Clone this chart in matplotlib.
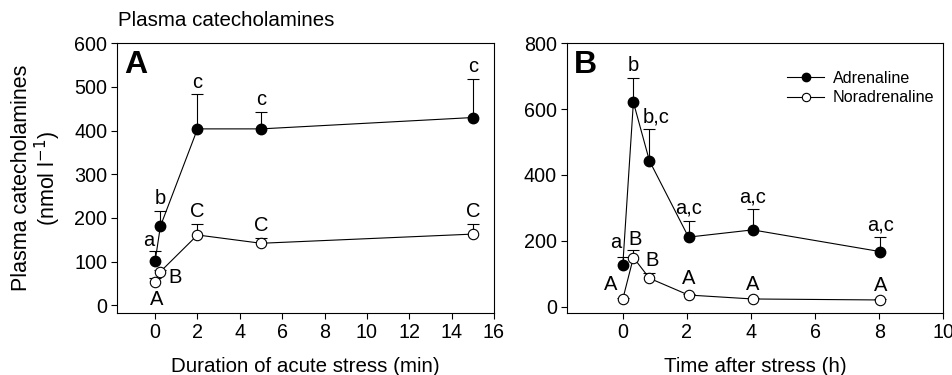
import matplotlib
matplotlib.use("Agg")
import matplotlib.pyplot as plt
from matplotlib.lines import Line2D

plt.rcParams['font.family'] = ['Liberation Sans', 'DejaVu Sans']

# Panel A: duration of acute stress (min)
a_time = [0, 0.25, 2, 5, 15]
a_adr = [101, 181, 404, 404, 430]
a_adr_err = [23, 35, 79, 39, 88]
a_nor = [54, 77, 161, 142, 163]
a_nor_err = [8, 4, 26, 12, 24]
a_adr_labels = ["a", "b", "c", "c", "c"]
a_nor_labels = ["A", "B", "C", "C", "C"]

# Panel B: time after stress (h)
b_time = [0, 0.33, 0.83, 2.05, 4.05, 8.03]
b_adr = [127, 621, 443, 211, 233, 167]
b_adr_err = [25, 73, 96, 50, 63, 43]
b_nor = [23, 149, 86, 35, 23, 20]
b_nor_err = [3, 23, 15, 4, 3, 3]
b_adr_labels = ["a", "b", "b,c", "a,c", "a,c", "a,c"]
b_nor_labels = ["A", "B", "B", "A", "A", "A"]

fig = plt.figure(figsize=(9.52, 3.75), dpi=100)
axA = fig.add_axes([0.1229, 0.165, 0.396, 0.7195])
axB = fig.add_axes([0.5953, 0.165, 0.3956, 0.7195])

fs = 14.2
ann = 14.5
lw = 0.8
ms = 7.5


def draw(ax, t, adr, adr_err, nor, nor_err):
    # upper-only error bars with a cap at the top, beneath the markers
    for vals, errs in ((adr, adr_err), (nor, nor_err)):
        tops = [v + e for v, e in zip(vals, errs)]
        ax.vlines(t, vals, tops, colors='black', lw=lw, zorder=2)
        ax.plot(t, tops, ls='none', marker='_', ms=8, mew=lw, color='black',
                zorder=2)
    ax.plot(t, adr, color='black', lw=lw, marker='o', ms=ms,
            mfc='black', mec='black', zorder=3)
    ax.plot(t, nor, color='black', lw=lw, marker='o', ms=ms,
            mfc='white', mec='black', mew=lw, zorder=4)
    for s in ax.spines.values():
        s.set_linewidth(lw)
    ax.tick_params(direction='out', length=4, width=lw, labelsize=fs, pad=3)


draw(axA, a_time, a_adr, a_adr_err, a_nor, a_nor_err)
axA.set_xlim(-1.8, 16)
axA.set_ylim(-18, 600)
axA.set_xticks(range(0, 17, 2))
axA.set_yticks(range(0, 601, 100))
axA.set_xlabel("Duration of acute stress (min)", fontsize=14.8, labelpad=11)
axA.set_ylabel("Plasma catecholamines\n(nmol l$^{-1}$)", fontsize=15.5,
               labelpad=8, linespacing=1.05)
axA.text(0.02, 0.975, "A", transform=axA.transAxes, fontsize=23,
         fontweight='bold', va='top', ha='left')

# significance letters, panel A
a_adr_pos = [(-0.32, 126), (0.25, 222), (2, 488), (5, 450), (15, 526)]
for (x, y), s in zip(a_adr_pos, a_adr_labels):
    axA.text(x, y, s, fontsize=ann, ha='center', va='bottom')
a_nor_pos = [(0.08, -8), (0.95, 42), (2, 194), (5, 160), (15, 194)]
for (x, y), s in zip(a_nor_pos, a_nor_labels):
    axA.text(x, y, s, fontsize=ann, ha='center', va='bottom')

draw(axB, b_time, b_adr, b_adr_err, b_nor, b_nor_err)
axB.set_xlim(-1.75, 10)
axB.set_ylim(-20, 800)
axB.set_xticks(range(0, 11, 2))
axB.set_yticks(range(0, 801, 200))
axB.set_xlabel("Time after stress (h)", fontsize=14.8, labelpad=11)
axB.text(0.02, 0.975, "B", transform=axB.transAxes, fontsize=23,
         fontweight='bold', va='top', ha='left')

b_adr_pos = [(-0.22, 166), (0.33, 704), (1.05, 548), (2.05, 270), (4.05, 304), (8.03, 220)]
for (x, y), s in zip(b_adr_pos, b_adr_labels):
    axB.text(x, y, s, fontsize=ann, ha='center', va='bottom')
b_nor_pos = [(-0.38, 38), (0.37, 174), (0.9, 110), (2.05, 56), (4.05, 38), (8.03, 36)]
for (x, y), s in zip(b_nor_pos, b_nor_labels):
    axB.text(x, y, s, fontsize=ann, ha='center', va='bottom')

handles = [
    Line2D([], [], color='black', lw=lw, marker='o', ms=6, mfc='black', mec='black'),
    Line2D([], [], color='black', lw=lw, marker='o', ms=6, mfc='white', mec='black', mew=lw),
]
axB.legend(handles, ['Adrenaline', 'Noradrenaline'], loc='upper left',
           bbox_to_anchor=(0.585, 0.898), frameon=False, fontsize=11.6,
           handlelength=2.3, handletextpad=0.55, labelspacing=0.28,
           borderaxespad=0, borderpad=0)

fig.text(118 / 952, 1 - 20 / 375, "Plasma catecholamines", fontsize=14.8,
         ha='left', va='center')

fig.savefig("out.png", dpi=100)
